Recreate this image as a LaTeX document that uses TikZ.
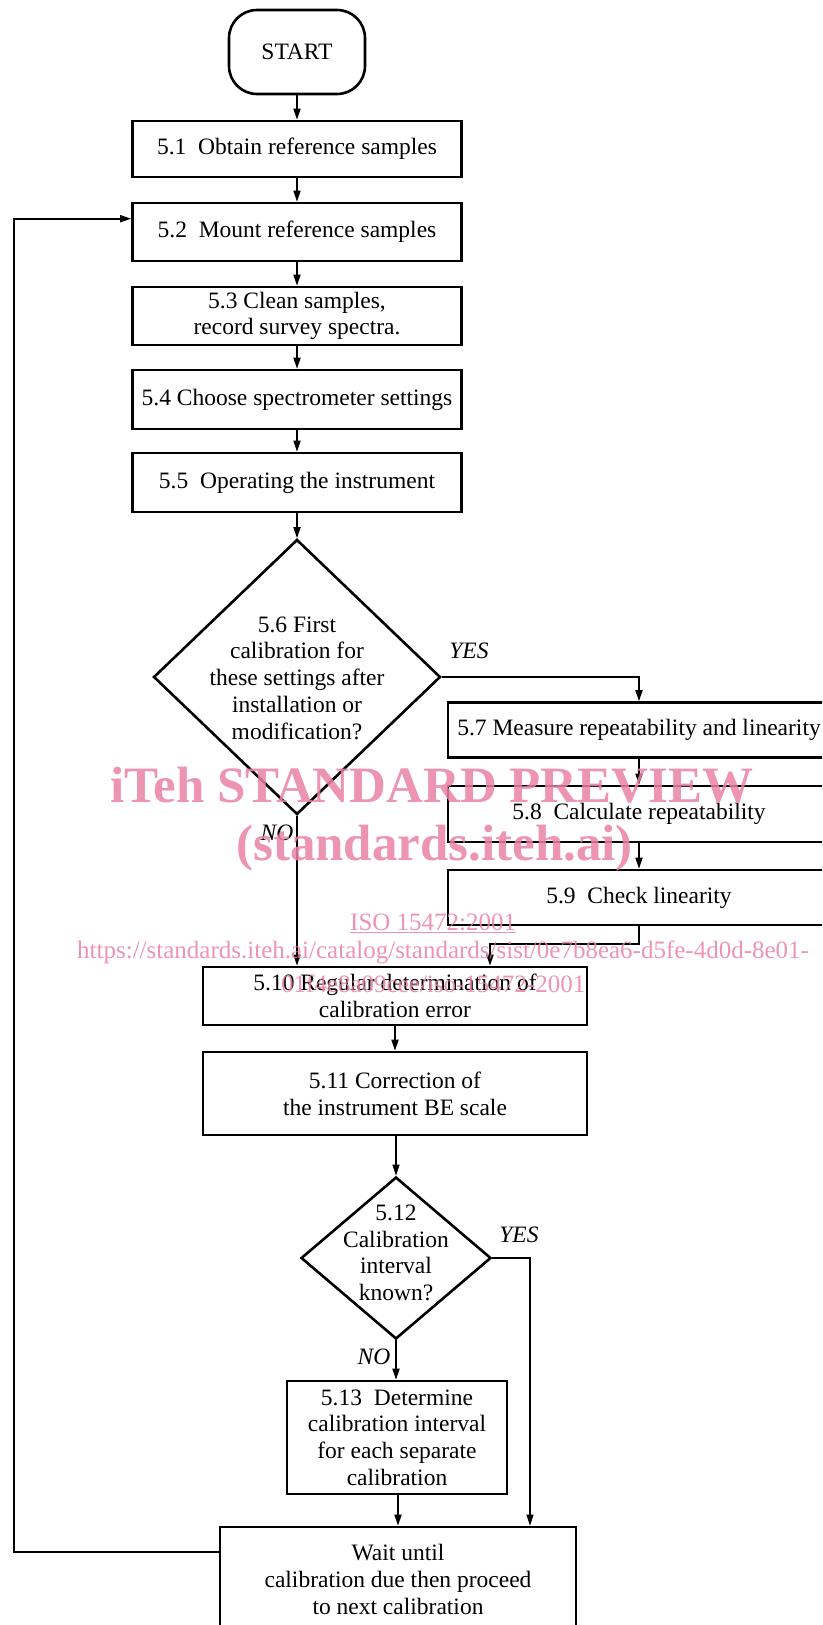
\documentclass[tikz,border=0pt]{standalone}
\usepackage{fontspec}
\setmainfont{Liberation Serif}
\usetikzlibrary{shapes.geometric,arrows.meta,calc}
\definecolor{wm}{RGB}{235,130,165}
\newcommand\mfont{\fontsize{23.5}{26.7}\selectfont}
\begin{document}
\begin{tikzpicture}[x=1pt,y=-1pt,
  box/.style={draw,line width=2.6pt,rectangle,inner sep=0pt,align=center,font=\mfont},
  term/.style={draw,line width=2.6pt,rounded corners=28pt,minimum width=136pt,minimum height=84pt,inner sep=0pt,font=\mfont},
  dia/.style={draw,line width=2.6pt,diamond,inner sep=0pt},
  dtext/.style={align=center,font=\mfont,inner sep=0pt},
  conn/.style={line width=1.7pt,-{Triangle[length=11pt,width=7pt]}},
  connthin/.style={line width=1.1pt,-{Triangle[length=11pt,width=7pt]}},
  lab/.style={font=\mfont\itshape,inner sep=0pt},
  wmbig/.style={wm,opacity=0.85,inner sep=0pt,anchor=base west,font=\fontsize{51}{51}\selectfont\bfseries},
  wmsmall/.style={wm,opacity=0.85,inner sep=0pt,anchor=base west,font=\fontsize{25}{25}\selectfont}]
\useasboundingbox (0,0) rectangle (822,1625);
\fill[white] (0,0) rectangle (822,1625);
\clip (0,0) rectangle (822,1625);

% main column
\node[term] (start) at (297,52) {START};
\node[box,minimum width=329pt,minimum height=56pt] (b51) at (297,149) {5.1\enspace Obtain reference samples};
\node[box,minimum width=329pt,minimum height=58pt] (b52) at (297,232) {5.2\enspace Mount reference samples};
\node[box,minimum width=329pt,minimum height=58pt] (b53) at (297,316) {5.3 Clean samples,\\record survey spectra.};
\node[box,minimum width=329pt,minimum height=59pt] (b54) at (297,399.5) {5.4 Choose spectrometer settings};
\node[box,minimum width=329pt,minimum height=59pt] (b55) at (297,482.5) {5.5\enspace Operating the instrument};
\node[dia,minimum width=287pt,minimum height=275pt] (d56) at (297,677) {};
\node[dtext] (t56) at (297,678) {5.6 First\\calibration for\\these settings after\\installation or\\modification?};

% right column
\node[box,minimum width=382pt,minimum height=55pt] (b57) at (639,730) {5.7 Measure repeatability and linearity};
\node[box,minimum width=382pt,minimum height=56pt] (b58) at (639,814) {5.8\enspace Calculate repeatability};
\node[box,minimum width=382pt,minimum height=55pt] (b59) at (639,897.5) {5.9\enspace Check linearity};

% lower column
\node[box,minimum width=384pt,minimum height=58pt] (b510) at (395,996) {5.10 Regular determination of\\calibration error};
\node[box,minimum width=384pt,minimum height=83pt] (b511) at (395,1093.5) {5.11 Correction of\\the instrument BE scale};
\node[dia,minimum width=190pt,minimum height=162pt] (d512) at (396,1258) {};
\node[dtext] (t512) at (396,1253) {5.12\\Calibration\\interval\\known?};
\node[box,minimum width=220pt,minimum height=113pt] (b513) at (397,1437.5) {5.13\enspace Determine\\calibration interval\\for each separate\\calibration};
\node[box,minimum width=356pt,minimum height=105pt] (wait) at (398,1579.5) {Wait until\\calibration due then proceed\\to next calibration};

% labels
\node[lab] (yes1) at (469,651) {YES};
\node[lab] (no1) at (277,833) {NO};
\node[lab] (yes2) at (519,1235) {YES};
\node[lab] (no2) at (374,1357) {NO};

% connectors
\draw[conn] (start.south) -- (b51.north);
\draw[conn] (b51.south) -- (b52.north);
\draw[conn] (b52.south) -- (b53.north);
\draw[conn] (b53.south) -- (b54.north);
\draw[conn] (b54.south) -- (b55.north);
\draw[conn] (b55.south) -- (d56.north);
\draw[conn] (d56.east) -| (b57.north);
\draw[conn] (b57.south) -- (b58.north);
\draw[conn] (b58.south) -- (b59.north);
\coordinate (j1) at (490,944);
\draw[conn] (b59.south) |- (j1) -- (j1 |- b510.north);
\draw[conn] (d56.south) -- (d56.south |- b510.north);
\draw[conn] (b510.south -| b511.north) -- (b511.north);
\draw[connthin] (b511.south -| d512.north) -- (d512.north);
\draw[conn] (d512.south) -- (d512.south |- b513.north);
\draw[connthin] (d512.east) -| ([xshift=132pt]wait.north);
\draw[conn] (b513.south -| wait.north) -- (wait.north);
\coordinate (lp) at (14,220);
\draw[conn] ([yshift=-26pt]wait.north west) -| (lp) |- ([yshift=-17pt]b52.north west);

% watermark
\node[wmbig] (w1) at (110,802) {iTeh STANDARD PREVIEW};
\node[wmbig] (w2) at (236,860) {(standards.iteh.ai)};
\node[wmsmall] (w3) at (350,930) {\underline{ISO 15472:2001}};
\node[wmsmall] (w4) at (77,958) {https://standards.iteh.ai/catalog/standards/sist/0e7b8ea6-d5fe-4d0d-8e01-};
\node[wmsmall] (w5) at (281,992) {01f4e8a09cee/iso-15472-2001};
\end{tikzpicture}
\end{document}
